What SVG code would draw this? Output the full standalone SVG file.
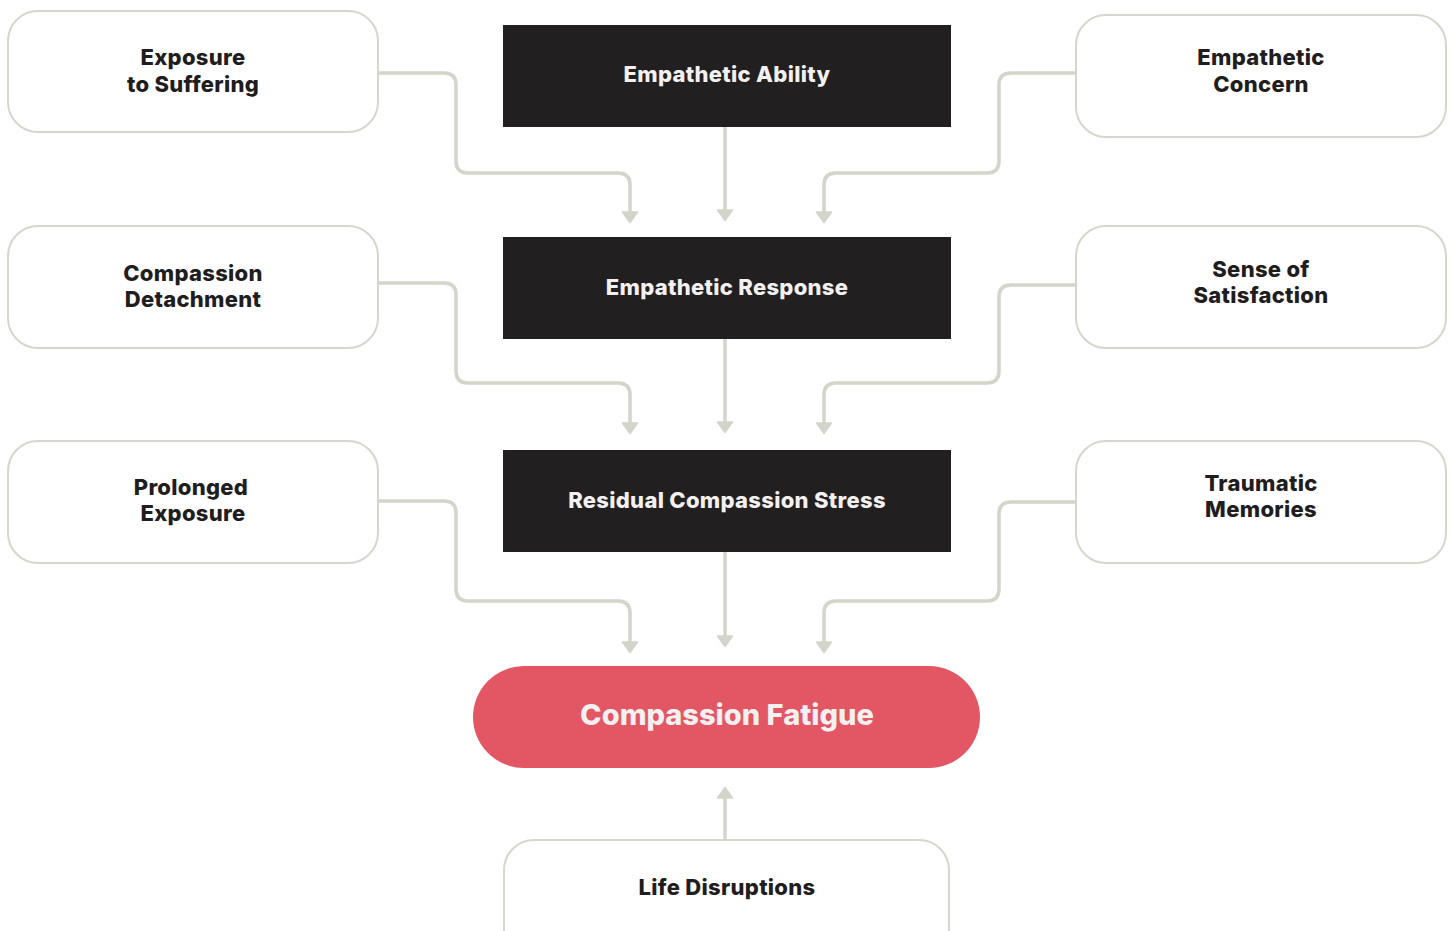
<svg xmlns="http://www.w3.org/2000/svg" width="1453" height="931" viewBox="0 0 1453 931">
<style>
.box{fill:#ffffff;stroke:#d5d6cc;stroke-width:2}
.dark{fill:#221f20}
.red{fill:#e35663}
.t{font-family:Inter,"Liberation Sans",sans-serif;font-weight:800;font-size:22px;text-anchor:middle;letter-spacing:0.3px}
.td{fill:#1f1d1e}
.tw{fill:#f2f0f0}
.big{font-size:29px;letter-spacing:0}
.conn{fill:none;stroke:#d3d4ca;stroke-width:3.5;marker-end:url(#ah)}
</style>
<defs>
<marker id="ah" markerUnits="userSpaceOnUse" viewBox="-1 -9 13 18" refX="0" refY="0" markerWidth="13" markerHeight="18" orient="auto">
<path d="M0,-7.5 L10.5,0 L0,7.5 Z" fill="#d3d4ca" stroke="#d3d4ca" stroke-width="1.5" stroke-linejoin="round"/>
</marker>
</defs>
<rect width="1453" height="931" fill="#ffffff"/>
<g id="connectors">
<path class="conn" d="M378,73 H444 Q456,73 456,85 V161 Q456,173 468,173 H618 Q630,173 630,185 V212"/>
<path class="conn" d="M725,127 V210"/>
<path class="conn" d="M1076,73 H1011 Q999,73 999,85 V161 Q999,173 987,173 H836 Q824,173 824,185 V212"/>
<path class="conn" d="M378,283 H444 Q456,283 456,295 V371 Q456,383 468,383 H618 Q630,383 630,395 V423"/>
<path class="conn" d="M725,339 V422"/>
<path class="conn" d="M1076,285 H1011 Q999,285 999,297 V371 Q999,383 987,383 H836 Q824,383 824,395 V423"/>
<path class="conn" d="M378,501 H444 Q456,501 456,513 V589 Q456,601 468,601 H618 Q630,601 630,613 V642"/>
<path class="conn" d="M725,552 V636"/>
<path class="conn" d="M1076,502 H1011 Q999,502 999,514 V589 Q999,601 987,601 H836 Q824,601 824,613 V642"/>
<path class="conn" d="M725,840 V798"/>
</g>
<g id="exposure-to-suffering">
<rect class="box" x="8" y="11" width="370" height="121" rx="30"/>
<text class="t td" x="193" y="65">Exposure</text>
<text class="t td" x="193" y="92">to Suffering</text>
</g>
<g id="compassion-detachment">
<rect class="box" x="8" y="226" width="370" height="122" rx="30"/>
<text class="t td" x="193" y="281">Compassion</text>
<text class="t td" x="193" y="307">Detachment</text>
</g>
<g id="prolonged-exposure">
<rect class="box" x="8" y="441" width="370" height="122" rx="30"/>
<text class="t td" x="191" y="495">Prolonged</text>
<text class="t td" x="193" y="521">Exposure</text>
</g>
<g id="empathetic-concern">
<rect class="box" x="1076" y="15" width="370" height="122" rx="30"/>
<text class="t td" x="1261" y="65">Empathetic</text>
<text class="t td" x="1261" y="92">Concern</text>
</g>
<g id="sense-of-satisfaction">
<rect class="box" x="1076" y="226" width="370" height="122" rx="30"/>
<text class="t td" x="1261" y="277">Sense of</text>
<text class="t td" x="1261" y="303">Satisfaction</text>
</g>
<g id="traumatic-memories">
<rect class="box" x="1076" y="441" width="370" height="122" rx="30"/>
<text class="t td" x="1261" y="491">Traumatic</text>
<text class="t td" x="1261" y="517">Memories</text>
</g>
<g id="empathetic-ability">
<rect class="dark" x="503" y="25" width="448" height="102"/>
<text class="t tw" x="727" y="82">Empathetic Ability</text>
</g>
<g id="empathetic-response">
<rect class="dark" x="503" y="237" width="448" height="102"/>
<text class="t tw" x="727" y="295">Empathetic Response</text>
</g>
<g id="residual-compassion-stress">
<rect class="dark" x="503" y="450" width="448" height="102"/>
<text class="t tw" x="727" y="508">Residual Compassion Stress</text>
</g>
<g id="compassion-fatigue">
<rect class="red" x="473" y="666" width="507" height="102" rx="51"/>
<text class="t tw big" x="727" y="725">Compassion Fatigue</text>
</g>
<g id="life-disruptions">
<rect class="box" x="504" y="840" width="445" height="140" rx="30"/>
<text class="t td" x="727" y="895">Life Disruptions</text>
</g>
</svg>
